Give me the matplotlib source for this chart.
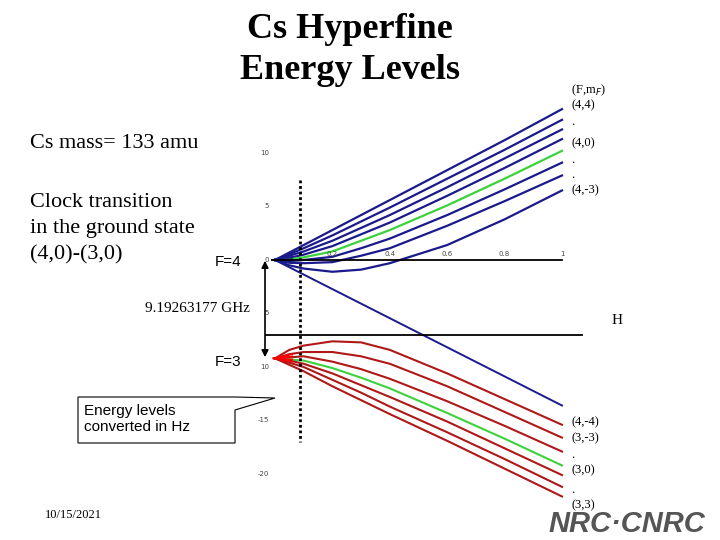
import matplotlib
matplotlib.use("Agg")
import matplotlib.pyplot as plt
from matplotlib.patches import Polygon

# field points (normalized H)
x = [0.0, 0.05, 0.1, 0.2, 0.3, 0.4, 0.6, 0.8, 1.0]
# F=4 levels (GHz), mF = 4 ... -3
f4_labels = [4, 3, 2, 1, 0, -1, -2, -3]
f4 = [
    [0, 0.7, 1.4, 2.8, 4.2, 5.6, 8.4, 11.2, 14.1],
    [0, 0.55, 1.1, 2.3, 3.6, 4.9, 7.6, 10.3, 13.1],
    [0, 0.4, 0.8, 1.8, 3.0, 4.2, 6.8, 9.5, 12.2],
    [0, 0.2, 0.5, 1.3, 2.4, 3.5, 6.0, 8.6, 11.3],
    [0, 0.05, 0.25, 0.8, 1.8, 2.8, 5.1, 7.6, 10.2],
    [0, -0.1, 0.0, 0.3, 1.1, 2.0, 4.2, 6.6, 9.1],
    [0, -0.25, -0.3, -0.2, 0.4, 1.1, 3.2, 5.5, 7.9],
    [0, -0.5, -0.8, -1.1, -0.9, -0.3, 1.4, 3.8, 6.5],
]
f4_m4 = [0, -0.68, -1.36, -2.72, -4.08, -5.44, -8.16, -10.88, -13.6]
# F=3 levels (GHz), mF = -3 ... 3
f3_labels = [-3, -2, -1, 0, 1, 2, 3]
f3 = [
    [-9.19, -8.4, -8.0, -7.6, -7.7, -8.4, -10.6, -13.0, -15.4],
    [-9.19, -8.8, -8.6, -8.6, -9.0, -9.7, -11.8, -14.2, -16.6],
    [-9.19, -9.1, -9.0, -9.5, -10.2, -11.1, -13.2, -15.5, -17.9],
    [-9.19, -9.3, -9.4, -10.1, -11.0, -12.0, -14.3, -16.7, -19.2],
    [-9.19, -9.4, -9.7, -10.6, -11.7, -12.8, -15.1, -17.6, -20.1],
    [-9.19, -9.6, -10.0, -11.2, -12.4, -13.7, -16.1, -18.6, -21.2],
    [-9.19, -9.8, -10.4, -11.8, -13.1, -14.4, -16.9, -19.5, -22.1],
]
xticks = [0.2, 0.4, 0.6, 0.8, 1]
yticks = [10, 5, 0, -5, -10, -15, -20]

fig = plt.figure(figsize=(7.2, 5.4), dpi=100)
PX = 10.7
ax = fig.add_axes([260/720, 30/540, 320/720, 420/540])
ax.set_xlim(-15/287, 305/287)
ax.set_ylim((260 - 510) / PX, (260 - 90) / PX)
ax.axis("off")

for lab, ys in zip(f4_labels, f4):
    ax.plot(x, ys, color="#3cd23c" if lab == 0 else "#1a1a8c", lw=1.6)
ax.plot(x, f4_m4, color="#1a1a8c", lw=1.4)
for lab, ys in zip(f3_labels, f3):
    ax.plot(x, ys, color="#3cd23c" if lab == 0 else "#b01818", lw=1.5)
for v in [0.5, 0.3, 0.1, -0.1, -0.3]:
    ax.plot([-0.01, 0.06], [0, v], color="#1a1a8c", lw=1)
for v in [-8.8, -9.0, -9.3, -9.5]:
    ax.plot([-0.005, 0.06], [-9.19, v], color="red", lw=1.2)

ax.plot([-0.01, 1.0], [0, 0], color="black", lw=1.3)
ax.plot([-0.03, 1.07], [(260-335)/PX, (260-335)/PX], color="black", lw=1.3, clip_on=False)
for t in xticks:
    ax.text(t, 0.3, f"{t:g}", fontsize=5, ha="center", va="bottom", color="#444")
for t in yticks:
    ax.text(-0.02, t, f"{abs(t) if t > -15 else t}", fontsize=5, ha="right", va="center", color="#444")
ax.plot([0.087, 0.087], [(260-180)/PX, (260-442)/PX], color="black", lw=2, ls=(0, (1, 1)))

fig.text(350/720, 1 - 50/540, "Cs Hyperfine\nEnergy Levels", ha="center", va="center",
         fontsize=26, fontweight="bold", family="Liberation Serif", linespacing=1.3)
fig.text(30/720, 1 - 143/540, "Cs mass= 133 amu", fontsize=16, family="Liberation Serif", va="center")
fig.text(30/720, 1 - 229/540, "Clock transition\nin the ground state\n(4,0)-(3,0)", fontsize=16,
         family="Liberation Serif", va="center", linespacing=1.5)
fig.text(215/720, 1 - 262/540, "F=4", fontsize=11, family="Liberation Sans", va="center")
fig.text(215/720, 1 - 362/540, "F=3", fontsize=11, family="Liberation Sans", va="center")
fig.text(145/720, 1 - 308/540, "9.19263177 GHz", fontsize=11, family="Liberation Serif", va="center")
fig.text(45/720, 1 - 515/540, "10/15/2021", fontsize=9, family="Liberation Serif", va="center")
fig.text(612/720, 1 - 320/540, "H", fontsize=11, family="Liberation Serif", va="center")
fig.add_artist(matplotlib.patches.FancyArrowPatch((265/720, 1-258/540), (265/720, 1-360/540),
               transform=fig.transFigure, arrowstyle="<|-|>", mutation_scale=10, lw=1.2, color="black"))
fig.add_artist(Polygon([(78/720, 1-397/540), (235/720, 1-397/540), (275/720, 1-398/540),
                        (235/720, 1-410/540), (235/720, 1-443/540), (78/720, 1-443/540)],
                       closed=True, transform=fig.transFigure, fc="white", ec="black", lw=0.8))
fig.text(84/720, 1 - 419/540, "Energy levels\nconverted in Hz", fontsize=11, family="Liberation Sans",
         va="center", linespacing=1.1)

rl = [("(F,m$_F$)", 90), ("(4,4)", 105), (".", 122), ("(4,0)", 143), (".", 160), (".", 175),
      ("(4,-3)", 190), ("(4,-4)", 422), ("(3,-3)", 438), (".", 455), ("(3,0)", 470), (".", 490), ("(3,3)", 505)]
for s, yy in rl:
    fig.text(571/720, 1 - yy/540, s, fontsize=9, family="Liberation Serif", va="center")
fig.text(548/720, 1 - 524/540, "NRC·CNRC", fontsize=21, fontweight="bold", style="italic",
         family="Liberation Sans", color="#555", va="center")
fig.savefig("out.png", dpi=100)
